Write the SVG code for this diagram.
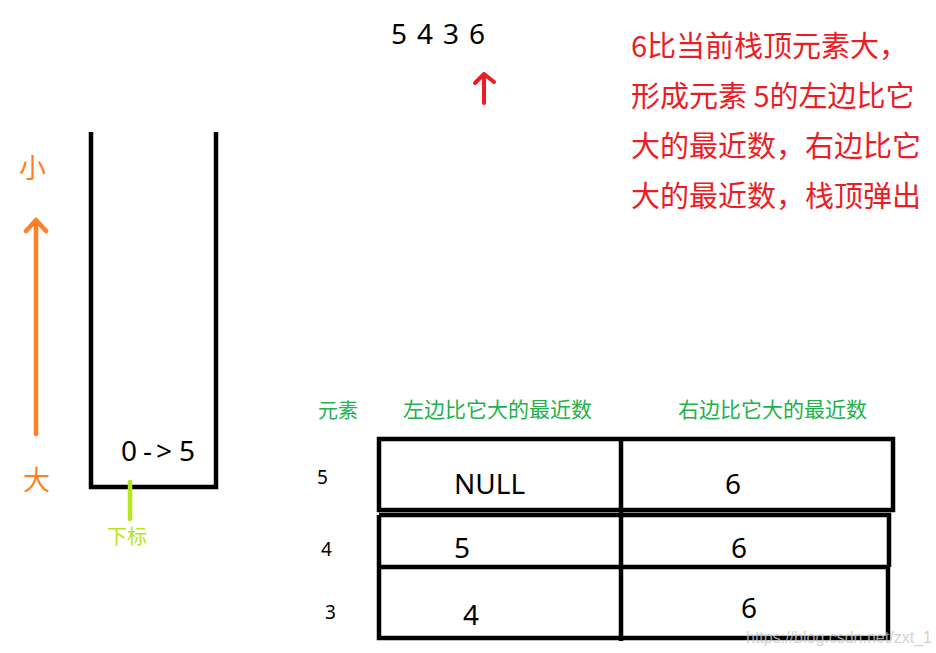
<svg xmlns="http://www.w3.org/2000/svg" width="936" height="653" viewBox="0 0 936 653">
<style>
.cjk{font-family:"Noto Sans CJK SC","Noto Sans",sans-serif}
.num{font-family:"Noto Sans","Noto Sans CJK SC",sans-serif}
.blk{stroke:#000;fill:none;stroke-width:4.5}
.red{fill:#ed1c24}
.grn{fill:#22b14c}
.org{fill:#ff7f27}
</style>
<rect width="936" height="653" fill="#fff"/>
<g id="stack">
<path class="blk" d="M91 132 V487 H216 V132"/>
<text class="num" x="121" y="461" font-size="28"><tspan x="121">0</tspan><tspan x="143">-</tspan><tspan x="156">&gt;</tspan><tspan x="179">5</tspan></text>
</g>
<g id="index">
<line x1="130" y1="482" x2="130" y2="519" stroke="#b5e61d" stroke-width="4.5" stroke-linecap="round"/>
<text class="cjk" x="107" y="544" font-size="20" fill="#b5e61d">下标</text>
</g>
<g id="order">
<text class="cjk org" x="19" y="178" font-size="27">小</text>
<text class="cjk org" x="23" y="490" font-size="27">大</text>
</g>
<g id="connectors">
<path d="M36 434 V220 M26 231 L36 220 L46 231" stroke="#ff7f27" stroke-width="4.5" fill="none" stroke-linecap="round" stroke-linejoin="round"/>
<path d="M484 103 V74 M475 83 L484 74 L494 82" stroke="#ed1c24" stroke-width="4" fill="none" stroke-linecap="round" stroke-linejoin="round"/>
</g>
<g id="sequence" class="num" font-size="28">
<text x="391" y="44">5</text>
<text x="417" y="44">4</text>
<text x="443" y="44">3</text>
<text x="469" y="44">6</text>
</g>
<g id="note" class="cjk red" font-size="29">
<text x="631" y="57">6比当前栈顶元素大，</text>
<text x="631" y="107">形成元素 5的左边比它</text>
<text x="631" y="157">大的最近数，右边比它</text>
<text x="631" y="207">大的最近数，栈顶弹出</text>
</g>
<g id="headers" class="cjk grn">
<text x="318" y="418" font-size="20">元素</text>
<text x="403" y="417" font-size="21">左边比它大的最近数</text>
<text x="678" y="417" font-size="21">右边比它大的最近数</text>
</g>
<g id="table">
<rect class="blk" x="379" y="439" width="514" height="71" stroke-width="5"/>
<path class="blk" d="M379 515 H889 V567 M379 515 V638 H888 V567 M378 567 H890" stroke-width="4.5"/>
<line x1="621" y1="439" x2="621" y2="641" stroke="#000" stroke-width="4.5"/>
</g>
<g id="rows" class="num" font-size="28">
<text x="317" y="484" font-size="19">5</text>
<text x="321" y="556" font-size="19">4</text>
<text x="325" y="619" font-size="19">3</text>
<text x="454" y="494">NULL</text>
<text x="725" y="494">6</text>
<text x="454" y="558">5</text>
<text x="731" y="558">6</text>
<text x="463" y="625">4</text>
<text x="741" y="618">6</text>
</g>
<text x="746" y="643" font-family="Liberation Sans,sans-serif" font-size="16" fill="#c8c8c8" opacity="0.8">https://blog.csdn.net/zxt_1</text>
</svg>
